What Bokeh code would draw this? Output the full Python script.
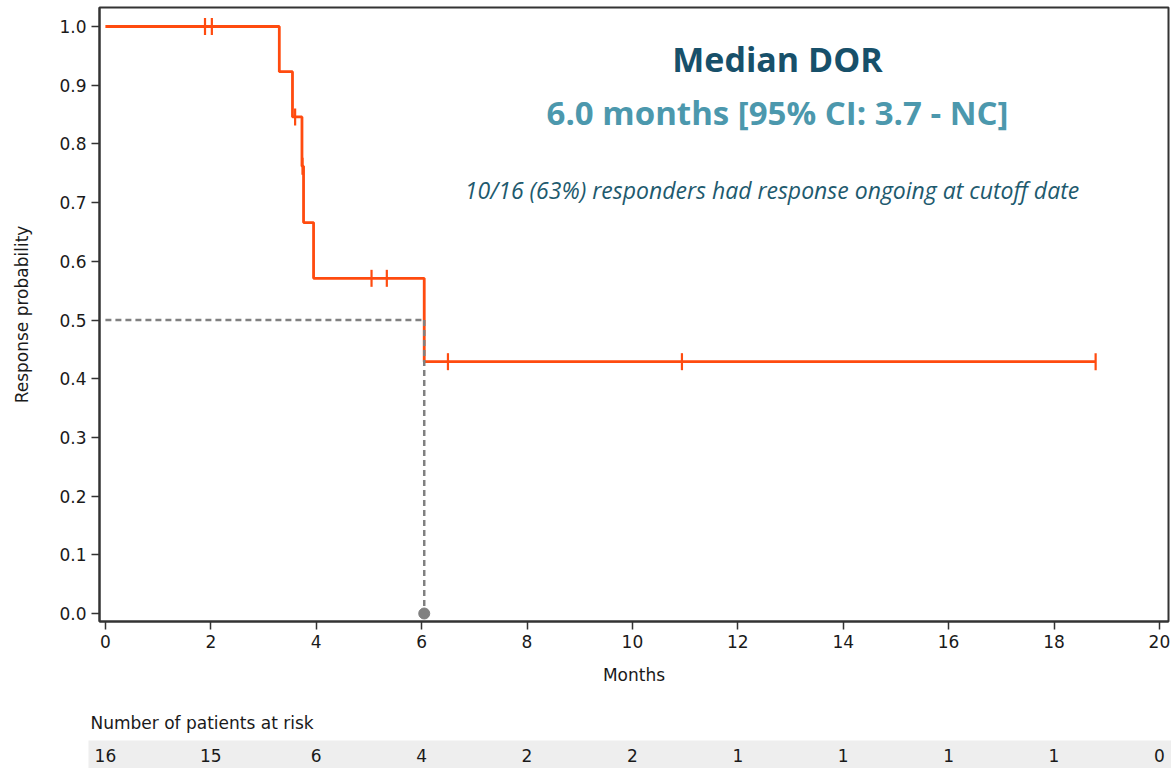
import numpy as np
from bokeh.plotting import figure
from bokeh.models import Range1d, Label, FixedTicker, PrintfTickFormatter
from bokeh.layouts import column
from bokeh.core.properties import value
from bokeh.embed import file_html
from bokeh.resources import INLINE

# ---- data ----
event_times = [3.30, 3.55, 3.73, 3.76, 3.95, 6.05]
event_surv = [0.923, 0.846, 0.762, 0.666, 0.571, 0.429]
censor_times = [1.89, 2.02, 3.60, 3.74, 5.05, 5.34, 6.50, 10.94, 18.79]
censor_surv = [1.0, 1.0, 0.846, 0.762, 0.571, 0.571, 0.429, 0.429, 0.429]
last_time = 18.79
median_time = 6.05
median_level = 0.5
risk_times = [0, 2, 4, 6, 8, 10, 12, 14, 16, 18, 20]
risk_counts = [16, 15, 6, 4, 2, 2, 1, 1, 1, 1, 0]
x_ticks = [0, 2, 4, 6, 8, 10, 12, 14, 16, 18, 20]
y_ticks = [0.0, 0.1, 0.2, 0.3, 0.4, 0.5, 0.6, 0.7, 0.8, 0.9, 1.0]

title1 = "Median DOR"
title2 = "6.0 months [95% CI: 3.7 - NC]"
note = "10/16 (63%) responders had response ongoing at cutoff date"

ORANGE = "#ff4b0f"
GREY = "#808080"
AXIS_FONT = "DejaVu Sans"
TXT = "#1a1a1a"

# layout geometry (pixels)
W = 1171
FR_L, FR_R, FR_T, FR_B = 99, 1168, 7, 621
X0_PX, PX_PER_MONTH = 104.9, 52.7
Y1_PX, Y0_PX = 26, 613
MAIN_H = 700
TAB_H = 768 - MAIN_H

X0 = (FR_L - X0_PX) / PX_PER_MONTH
X1 = (FR_R - X0_PX) / PX_PER_MONTH
py_per_unit = Y0_PX - Y1_PX
Y0 = -(FR_B - Y0_PX) / py_per_unit
Y1 = 1 + (Y1_PX - FR_T) / py_per_unit

p = figure(width=W, height=MAIN_H, output_backend="svg", toolbar_location=None,
           x_range=Range1d(X0, X1), y_range=Range1d(Y0, Y1),
           min_border_left=FR_L, min_border_right=W - FR_R, min_border_top=FR_T,
           min_border_bottom=MAIN_H - FR_B)
p.frame_align = False
p.background_fill_color = "white"
p.border_fill_color = "white"
p.outline_line_color = "#333333"
p.outline_line_width = 2
p.xgrid.visible = False
p.ygrid.visible = False

for ax in (p.xaxis[0], p.yaxis[0]):
    ax.axis_line_color = "#333333"
    ax.axis_line_width = 2
    ax.major_tick_line_color = "#333333"
    ax.major_tick_line_width = 1.5
    ax.major_tick_out = 8
    ax.major_tick_in = 0
    ax.minor_tick_line_color = None
    ax.major_label_text_font = AXIS_FONT
    ax.major_label_text_font_size = "17px"
    ax.major_label_text_color = TXT
    ax.axis_label_text_font = AXIS_FONT
    ax.axis_label_text_font_size = "17px"
    ax.axis_label_text_font_style = "normal"
    ax.axis_label_text_color = TXT

p.xaxis.ticker = FixedTicker(ticks=x_ticks)
p.yaxis.ticker = FixedTicker(ticks=y_ticks)
p.yaxis.formatter = PrintfTickFormatter(format="%.1f")
p.xaxis.axis_label = "Months"
p.yaxis.axis_label = "Response probability"
p.xaxis.axis_label_standoff = 14
p.yaxis.axis_label_standoff = 24

# KM step curve
xs = [0.0] + event_times + [last_time]
ys = [1.0] + event_surv + [event_surv[-1]]
p.step(xs, ys, mode="after", line_color=ORANGE, line_width=2.8)

# censor marks
p.scatter(censor_times, censor_surv, marker="dash", angle=np.pi / 2, size=17,
          line_color=ORANGE, line_width=2.2)

# median reference lines
p.line([0, median_time], [median_level, median_level], line_color=GREY,
       line_width=2.5, line_dash="6 4")
p.line([median_time, median_time], [median_level, 0], line_color=GREY,
       line_width=2.5, line_dash="6 4")
p.scatter([median_time], [0], marker="circle", size=11, fill_color=GREY,
          line_color=GREY)


def px2x(px):
    return (px - X0_PX) / PX_PER_MONTH


def py2y(py):
    return 1 - (py - Y1_PX) / py_per_unit


# text annotations
p.add_layout(Label(x=px2x(777), y=py2y(58), text=title1, text_align="center",
                   text_baseline="middle", text_font="Open Sans", text_font_style="bold",
                   text_font_size="34px", text_color="#17506a"))
p.add_layout(Label(x=px2x(777), y=py2y(112), text=title2, text_align="center",
                   text_baseline="middle", text_font="Open Sans", text_font_style="bold",
                   text_font_size="33px", text_color="#4c98ad"))
p.add_layout(Label(x=px2x(771.5), y=py2y(189), text=note, text_align="center",
                   text_baseline="middle", text_font="Open Sans", text_font_style="italic",
                   text_font_size="23px", text_color="#1e5a6e"))

# ---- at-risk table ----
t_start = px2x(0)
t_end = px2x(W)
t = figure(width=W, height=TAB_H, output_backend="svg", toolbar_location=None,
           x_range=Range1d(t_start, t_end), y_range=Range1d(0, TAB_H),
           min_border_left=0, min_border_right=0, min_border_top=0, min_border_bottom=0)
t.frame_align = False
t.axis.visible = False
t.xgrid.visible = False
t.ygrid.visible = False
t.outline_line_color = None
t.background_fill_color = "white"
t.border_fill_color = "white"
t.quad(left=[px2x(88)], right=[t_end + 1], bottom=[0], top=[768 - 740],
       fill_color="#eeeeee", line_color=None)
t.text(x=risk_times, y=[768 - 755] * len(risk_times), text=[str(c) for c in risk_counts],
       text_align="center", text_baseline="middle", text_font=value(AXIS_FONT),
       text_font_size="17px", text_color=TXT)
t.add_layout(Label(x=px2x(90), y=768 - 722, text="Number of patients at risk",
                   text_align="left", text_baseline="middle", text_font=AXIS_FONT,
                   text_font_size="17px", text_color=TXT))

layout = column(p, t, spacing=0)
open("out.html", "w").write(file_html(layout, INLINE))
